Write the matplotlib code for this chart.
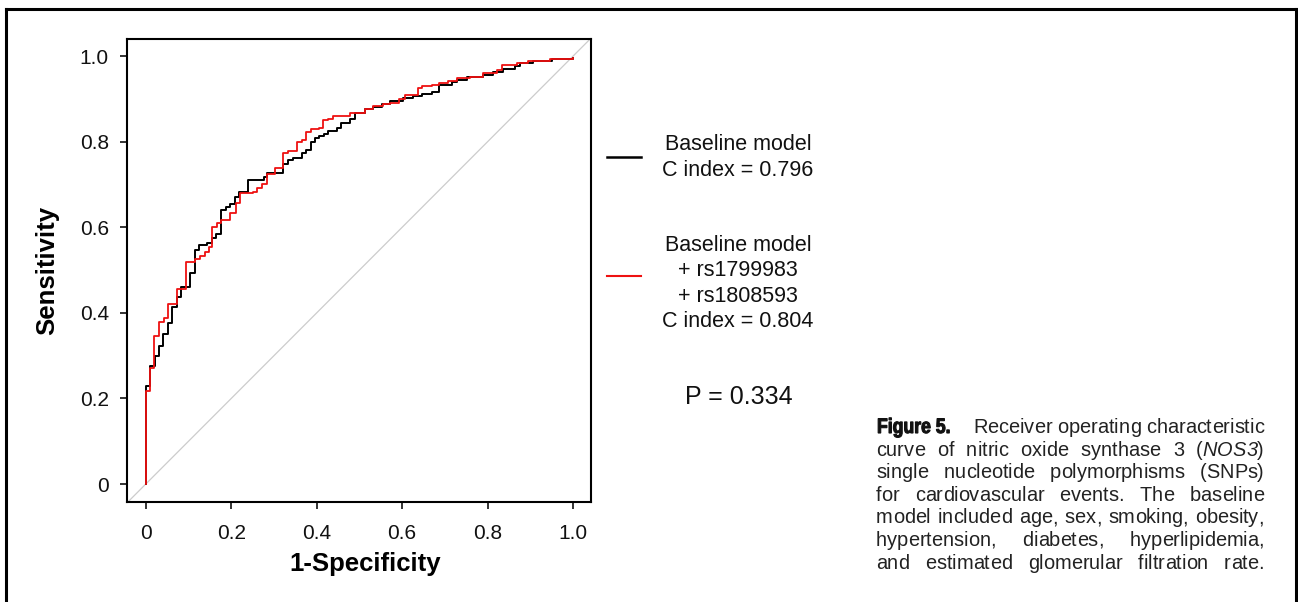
import matplotlib
matplotlib.use("Agg")
import matplotlib.pyplot as plt
from matplotlib.lines import Line2D
from matplotlib import font_manager
from matplotlib.font_manager import FontProperties
from matplotlib.ft2font import FT2Font
from matplotlib.textpath import TextPath
from matplotlib.patches import PathPatch
from matplotlib.transforms import Affine2D

plt.rcParams["font.family"] = ["Liberation Sans", "DejaVu Sans"]

# ROC step curves: x position of each vertical jump and the sensitivity reached
base_fpr = [0, 0, 0.009, 0.021, 0.031, 0.041, 0.051, 0.062, 0.072, 0.082, 0.103, 0.115,
            0.124, 0.144, 0.154, 0.164, 0.177, 0.187, 0.197, 0.208, 0.219, 0.240, 0.276,
            0.283, 0.322, 0.333, 0.345, 0.365, 0.375, 0.386, 0.396, 0.406, 0.417, 0.427,
            0.448, 0.458, 0.478, 0.489, 0.513, 0.532, 0.552, 0.571, 0.603, 0.626, 0.646,
            0.669, 0.687, 0.716, 0.728, 0.751, 0.790, 0.813, 0.837, 0.864, 0.876, 0.907,
            0.950, 1.0]
base_tpr = [0, 0.229, 0.276, 0.299, 0.322, 0.350, 0.377, 0.414, 0.438, 0.461, 0.492, 0.547,
            0.558, 0.564, 0.574, 0.584, 0.640, 0.648, 0.654, 0.671, 0.683, 0.710, 0.718,
            0.726, 0.749, 0.757, 0.763, 0.773, 0.780, 0.800, 0.808, 0.813, 0.819, 0.826,
            0.833, 0.843, 0.854, 0.866, 0.876, 0.882, 0.889, 0.896, 0.901, 0.907, 0.911,
            0.917, 0.932, 0.940, 0.945, 0.952, 0.957, 0.963, 0.971, 0.977, 0.984, 0.989,
            0.993, 0.995]

snp_fpr = [0, 0, 0.011, 0.020, 0.031, 0.042, 0.052, 0.073, 0.095, 0.115, 0.126, 0.138,
           0.148, 0.156, 0.167, 0.177, 0.198, 0.210, 0.220, 0.250, 0.261, 0.271, 0.283,
           0.302, 0.322, 0.333, 0.353, 0.365, 0.375, 0.386, 0.406, 0.415, 0.427, 0.439,
           0.479, 0.513, 0.532, 0.556, 0.571, 0.593, 0.606, 0.636, 0.646, 0.669, 0.687,
           0.708, 0.728, 0.759, 0.790, 0.821, 0.833, 0.868, 0.895, 0.946, 1.0]
snp_tpr = [0, 0.218, 0.270, 0.346, 0.379, 0.389, 0.420, 0.455, 0.518, 0.525, 0.533, 0.543,
           0.555, 0.601, 0.611, 0.617, 0.634, 0.656, 0.681, 0.683, 0.691, 0.702, 0.724,
           0.738, 0.774, 0.779, 0.800, 0.805, 0.823, 0.829, 0.831, 0.850, 0.854, 0.860,
           0.866, 0.876, 0.883, 0.888, 0.891, 0.899, 0.909, 0.925, 0.930, 0.932, 0.938,
           0.942, 0.948, 0.952, 0.960, 0.967, 0.979, 0.984, 0.989, 0.993, 0.996]

ticks = [0, 0.2, 0.4, 0.6, 0.8, 1.0]
tick_labels = ["0", "0.2", "0.4", "0.6", "0.8", "1.0"]

legend_lines = [("Baseline model", 144), ("C index = 0.796", 170),
                ("Baseline model", 245), ("+ rs1799983", 271),
                ("+ rs1808593", 297), ("C index = 0.804", 322)]
p_text = "P = 0.334"

fig_label = "Figure 5."
caption = [
    "Receiver operating characteristic",
    "curve of nitric oxide synthase 3 (NOS3)",
    "single nucleotide polymorphisms (SNPs)",
    "for cardiovascular events. The baseline",
    "model included age, sex, smoking, obesity,",
    "hypertension, diabetes, hyperlipidemia,",
    "and estimated glomerular filtration rate.",
]
italic_words = {"NOS3"}

W, H = 1298, 602
RED = "#ee1111"
fig = plt.figure(figsize=(W / 100, H / 100), dpi=100)
pix = Affine2D().scale(1 / W, 1 / H) + fig.transFigure   # pixel coords, origin bottom-left


def px(x, y):
    return x / W, 1 - y / H


# outer frame (open at the bottom)
for xs, ys in [((6, 6), (9, 602)), ((6, 1296), (9, 9)), ((1296, 1296), (9, 602))]:
    fig.add_artist(Line2D([x / W for x in xs], [1 - y / H for y in ys],
                          color="black", lw=2.2, solid_capstyle="projecting"))

ax = fig.add_axes([127 / W, 1 - 502 / H, 464 / W, 463 / H])
ax.set_xlim(-0.044, 1.042)
ax.set_ylim(-0.042, 1.040)
ax.axline((0, 0), (1, 1), color="#cccccc", lw=0.9, zorder=1)
ax.step(base_fpr, base_tpr, where="post", color="black", lw=1.4, zorder=2)
ax.step(snp_fpr, snp_tpr, where="post", color=RED, lw=1.3, zorder=3)

ax.set_xticks(ticks)
ax.set_xticklabels(tick_labels)
ax.set_yticks(ticks)
ax.set_yticklabels(tick_labels)
ax.tick_params(labelsize=15, length=5, width=1.2, pad=8, colors="#111111")
ax.tick_params(axis="x", pad=11)
for s in ax.spines.values():
    s.set_linewidth(1.5)

ax.set_xlabel("1-Specificity", fontsize=18.5, fontweight="bold", va="center")
ax.xaxis.set_label_coords(0.513, -0.134)
ax.set_ylabel("Sensitivity", fontsize=18.5, fontweight="bold", va="center")
ax.yaxis.set_label_coords(-0.172, 0.501)

# legend block
fig.add_artist(Line2D([607 / W, 641 / W], [1 - 157 / H] * 2, color="black", lw=1.8))
fig.add_artist(Line2D([607 / W, 641 / W], [1 - 276 / H] * 2, color=RED, lw=1.5))
for txt, y in legend_lines:
    fig.text(*px(738, y), txt, fontsize=15.5, ha="center", va="center", color="#111111")
fig.text(*px(739, 397), p_text, fontsize=18, ha="center", va="center", color="#111111")

# caption: justified text laid out glyph by glyph
cap_size = 14.4
cap_color = "#222222"
fonts = {}
for style in ("normal", "italic"):
    path = font_manager.findfont(FontProperties(family="Liberation Sans", style=style))
    f = FT2Font(path)
    f.set_size(cap_size, 100)
    fonts[style] = f


def advance(ch, style):
    g = fonts[style].load_char(ord(ch))
    return g.linearHoriAdvance / 65536


def glyphs(text):
    out = []
    for wi, word in enumerate(text.split(" ")):
        if wi:
            out.append((" ", "normal"))
        core = word.strip("(),.")
        for ch in word:
            st = "italic" if core in italic_words and ch in core else "normal"
            out.append((ch, st))
    return out


left, right = 876, 1264
base0, step = 433, 22.6
starts = [973] + [left] * (len(caption) - 1)

for i, (text, x0) in enumerate(zip(caption, starts)):
    g = glyphs(text)
    y = base0 + i * step
    nat = sum(advance(c, s) for c, s in g)
    n_sp = sum(1 for c, _ in g if c == " ")
    extra = (right - x0 - nat) / n_sp
    x = x0
    for c, s in g:
        if c != " ":
            fig.text(x / W, 1 - y / H, c, fontsize=cap_size, style=s, va="baseline",
                     ha="left", color=cap_color)
            x += advance(c, s)
        else:
            x += advance(c, s) + extra

# "Figure 5." in a heavy condensed face: bold outline squeezed horizontally
tp = TextPath((0, 0), fig_label, size=21,
              prop=FontProperties(family="Liberation Sans", weight="bold"))
tr = Affine2D().scale(0.84, 1.0).translate(left + 1, H - base0) + pix
fig.add_artist(PathPatch(tp, transform=tr, facecolor="#111111", edgecolor="#111111",
                         lw=0.8))

fig.savefig("out.png", dpi=100)
